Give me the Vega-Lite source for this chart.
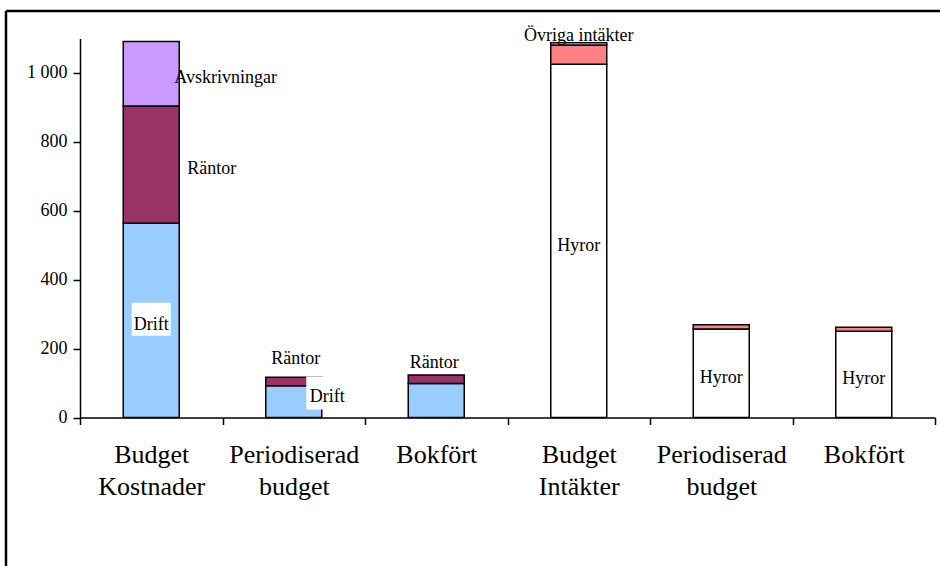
{
  "$schema": "https://vega.github.io/schema/vega-lite/v6.json",
  "width": 934,
  "height": 555,
  "autosize": {"type": "none"},
  "padding": {"left": 6, "top": 11, "right": 0, "bottom": 0},
  "background": "white",
  "view": {"stroke": "black", "strokeWidth": 2.5, "strokeDash": [934, 1489, 555, 0], "fill": "white"},
  "config": {
    "font": "Liberation Serif",
    "axis": {"domainColor": "black", "tickColor": "black", "labelColor": "black", "domainWidth": 1.5, "tickWidth": 1.5, "grid": false, "labelFont": "Liberation Serif", "ticks": true},
    "text": {"font": "Liberation Serif", "fontSize": 18, "color": "black"}
  },
  "data": {
    "values": [
      {"stapel": "Budget Kostnader", "post": "Drift", "ordning": 1, "belopp": 564},
      {"stapel": "Budget Kostnader", "post": "Räntor", "ordning": 2, "belopp": 340},
      {"stapel": "Budget Kostnader", "post": "Avskrivningar", "ordning": 3, "belopp": 187},
      {"stapel": "Periodiserad budget (K)", "post": "Drift", "ordning": 1, "belopp": 92},
      {"stapel": "Periodiserad budget (K)", "post": "Räntor", "ordning": 2, "belopp": 25},
      {"stapel": "Bokfört (K)", "post": "Drift", "ordning": 1, "belopp": 99},
      {"stapel": "Bokfört (K)", "post": "Räntor", "ordning": 2, "belopp": 24},
      {"stapel": "Budget Intäkter", "post": "Hyror", "ordning": 1, "belopp": 1025},
      {"stapel": "Budget Intäkter", "post": "Övriga intäkter", "ordning": 2, "belopp": 56},
      {"stapel": "Budget Intäkter", "post": "Övrigt", "ordning": 3, "belopp": 7},
      {"stapel": "Periodiserad budget (I)", "post": "Hyror", "ordning": 1, "belopp": 257},
      {"stapel": "Periodiserad budget (I)", "post": "Övriga intäkter", "ordning": 2, "belopp": 12},
      {"stapel": "Bokfört (I)", "post": "Hyror", "ordning": 1, "belopp": 250},
      {"stapel": "Bokfört (I)", "post": "Övriga intäkter", "ordning": 2, "belopp": 12}
    ]
  },
  "encoding": {
    "x": {
      "field": "stapel", "type": "nominal", "sort": null, "title": null,
      "scale": {"range": [74, 929], "paddingInner": 0, "paddingOuter": 0},
      "axis": {"offset": -148.5, "ticks": true, "tickBand": "extent", "tickSize": 7, "labelAngle": 0, "labelFont": "Liberation Serif", "labelFontSize": 26, "labelLineHeight": 32, "labelPadding": 17, "labelLimit": 0,
        "labelExpr": "split(slice(datum.label, 0, indexof(datum.label + ' (', ' (')), ' ')"}
    },
    "y": {
      "field": "belopp", "type": "quantitative", "stack": "zero", "title": null,
      "scale": {"domain": [0, 1100], "range": [406.5, 27.5], "nice": false},
      "axis": {"offset": -74, "values": [0, 200, 400, 600, 800, 1000], "tickSize": 7, "labelFont": "Liberation Serif", "labelFontSize": 18, "labelPadding": 6,
        "labelExpr": "replace(format(datum.value, ','), ',', ' ')"}
    },
    "order": {"field": "ordning", "type": "quantitative"},
    "detail": {"field": "post", "type": "nominal"}
  },
  "layer": [
    {
      "mark": {"type": "bar", "stroke": "black", "strokeWidth": 1.5, "width": {"band": 0.393}},
      "encoding": {
        "color": {"field": "post", "type": "nominal", "legend": null,
          "scale": {"domain": ["Drift", "Räntor", "Avskrivningar", "Hyror", "Övriga intäkter", "Övrigt"],
                    "range": ["#99CCFF", "#993366", "#CC99FF", "#FFFFFF", "#FF8080", "#CCFFFF"]}}
      }
    },
    {
      "mark": {"type": "point", "shape": "M-1,-0.846L1,-0.846L1,0.846L-1,0.846Z", "filled": true, "fill": "white", "strokeWidth": 0, "size": 1521, "yOffset": -1},
      "encoding": {
        "y": {"field": "belopp", "type": "quantitative", "stack": "zero", "bandPosition": 0.5, "title": null},
        "opacity": {"condition": {"test": "datum.post === 'Drift' && datum.stapel === 'Budget Kostnader'", "value": 1}, "value": 0}
      }
    },
    {
      "mark": {"type": "point", "shape": "M-1,-0.733L1,-0.733L1,0.733L-1,0.733Z", "filled": true, "fill": "white", "strokeWidth": 0, "size": 2025, "xOffset": 35, "yOffset": -8.7},
      "encoding": {
        "y": {"field": "belopp", "type": "quantitative", "stack": "zero", "bandPosition": 0.5, "title": null},
        "opacity": {"condition": {"test": "datum.post === 'Drift' && datum.stapel === 'Periodiserad budget (K)'", "value": 1}, "value": 0}
      }
    },
    {
      "mark": {"type": "text", "font": "Liberation Serif", "fontSize": 18, "align": "center", "baseline": "alphabetic", "dy": 10},
      "encoding": {
        "y": {"field": "belopp", "type": "quantitative", "stack": "zero", "bandPosition": 0.5, "title": null},
        "text": {"condition": {"test": "datum.post === 'Hyror' || (datum.post === 'Drift' && datum.stapel === 'Budget Kostnader')", "field": "post", "type": "nominal"}, "value": ""}
      }
    },
    {
      "mark": {"type": "text", "font": "Liberation Serif", "fontSize": 18, "align": "left", "baseline": "alphabetic", "dx": 23, "dy": 9},
      "encoding": {
        "y": {"field": "belopp", "type": "quantitative", "stack": "zero", "bandPosition": 0.5, "title": null},
        "text": {"condition": {"test": "datum.post === 'Avskrivningar'", "field": "post", "type": "nominal"}, "value": ""}
      }
    },
    {
      "mark": {"type": "text", "font": "Liberation Serif", "fontSize": 18, "align": "left", "baseline": "alphabetic", "dx": 36, "dy": 9},
      "encoding": {
        "y": {"field": "belopp", "type": "quantitative", "stack": "zero", "bandPosition": 0.5, "title": null},
        "text": {"condition": {"test": "datum.post === 'Räntor' && datum.stapel === 'Budget Kostnader'", "field": "post", "type": "nominal"}, "value": ""}
      }
    },
    {
      "mark": {"type": "text", "font": "Liberation Serif", "fontSize": 18, "align": "center", "baseline": "alphabetic", "dx": 2, "dy": -13},
      "encoding": {
        "text": {"condition": {"test": "datum.post === 'Räntor' && datum.stapel === 'Periodiserad budget (K)'", "field": "post", "type": "nominal"}, "value": ""}
      }
    },
    {
      "mark": {"type": "text", "font": "Liberation Serif", "fontSize": 18, "align": "center", "baseline": "alphabetic", "dx": -2, "dy": -7},
      "encoding": {
        "text": {"condition": {"test": "datum.post === 'Räntor' && datum.stapel === 'Bokfört (K)'", "field": "post", "type": "nominal"}, "value": ""}
      }
    },
    {
      "mark": {"type": "text", "font": "Liberation Serif", "fontSize": 18, "align": "center", "baseline": "alphabetic", "dy": -4},
      "encoding": {
        "text": {"condition": {"test": "datum.post === 'Övriga intäkter' && datum.stapel === 'Budget Intäkter'", "field": "post", "type": "nominal"}, "value": ""}
      }
    },
    {
      "mark": {"type": "text", "font": "Liberation Serif", "fontSize": 18, "align": "left", "baseline": "alphabetic", "dx": 16, "dy": 0},
      "encoding": {
        "y": {"field": "belopp", "type": "quantitative", "stack": "zero", "bandPosition": 0.5, "title": null},
        "text": {"condition": {"test": "datum.post === 'Drift' && datum.stapel === 'Periodiserad budget (K)'", "field": "post", "type": "nominal"}, "value": ""}
      }
    }
  ]
}
